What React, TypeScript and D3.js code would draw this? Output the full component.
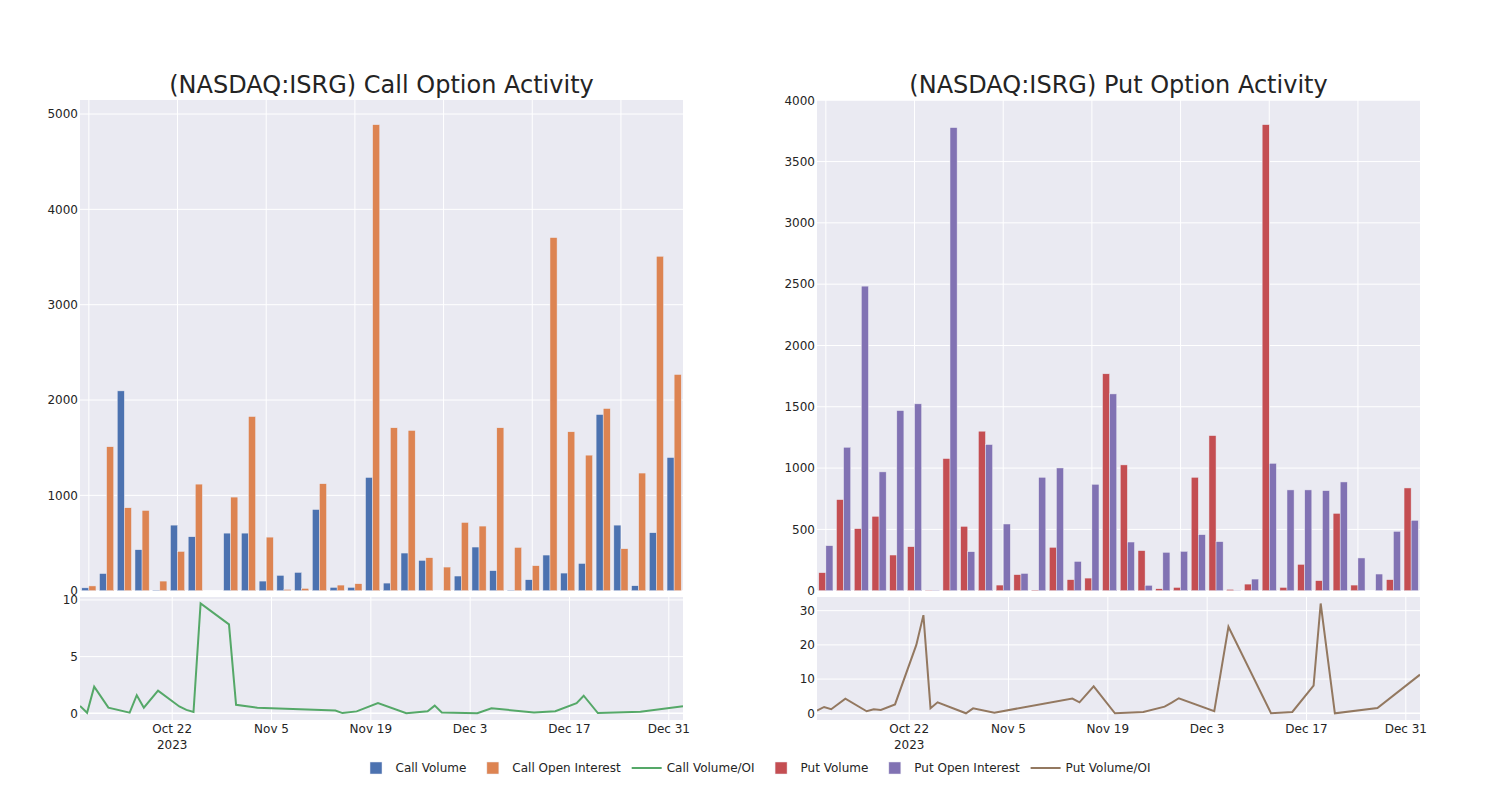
import React, { useEffect, useRef } from "react";
import * as d3 from "d3";

// ---------- DATA ----------
const callVolume = [30, 180, 2096, 430, 5, 688, 566, 0, 604, 604, 101, 161, 192, 852, 35, 35, 1188, 80, 395, 318, 0, 154, 458, 210, 5, 115, 374, 185, 286, 1848, 688, 52, 608, 1397];
const callOpenInterest = [50, 1510, 870, 842, 101, 412, 1118, 0, 982, 1827, 562, 14, 24, 1122, 59, 73, 4888, 1709, 1681, 346, 248, 716, 678, 1709, 454, 262, 3704, 1667, 1422, 1911, 440, 1234, 3508, 2268];
const putVolume = [147, 743, 506, 607, 291, 359, 3, 1078, 525, 1301, 46, 131, 5, 354, 90, 103, 1769, 1026, 327, 16, 27, 925, 1265, 11, 54, 3801, 27, 215, 82, 631, 46, 0, 90, 838];
const putOpenInterest = [367, 1170, 2484, 969, 1469, 1524, 3, 3777, 318, 1192, 544, 141, 925, 1001, 239, 868, 1605, 397, 44, 313, 321, 457, 400, 2, 95, 1039, 822, 822, 816, 887, 267, 136, 484, 574];

const ratioDates = [
  "2023-10-09", "2023-10-10", "2023-10-11", "2023-10-13", "2023-10-16", "2023-10-17", "2023-10-18", "2023-10-20",
  "2023-10-23", "2023-10-24", "2023-10-25", "2023-10-26", "2023-10-30", "2023-10-31", "2023-11-03", "2023-11-14",
  "2023-11-15", "2023-11-17", "2023-11-20", "2023-11-24", "2023-11-27", "2023-11-28", "2023-11-29", "2023-12-04",
  "2023-12-06", "2023-12-12", "2023-12-15", "2023-12-18", "2023-12-19", "2023-12-21", "2023-12-27", "2024-01-02",
];
const callVolumeOI = [0.65, 0.05, 2.35, 0.5, 0.06, 1.6, 0.5, 2.0, 0.6, 0.3, 0.12, 9.7, 7.85, 0.75, 0.5, 0.25, 0.02, 0.17, 0.9, 0.0, 0.18, 0.68, 0.08, 0.0, 0.45, 0.07, 0.18, 0.9, 1.55, 0.02, 0.13, 0.62];
const putVolumeOI = [0.8, 1.85, 1.2, 4.3, 0.6, 1.2, 1.0, 2.6, 20.0, 28.7, 1.5, 3.2, 0.0, 1.45, 0.2, 4.3, 3.2, 7.9, 0.0, 0.4, 1.95, 3.1, 4.4, 0.6, 25.3, 0.0, 0.4, 8.1, 32.1, 0.0, 1.55, 11.3];

const dateTicks = ["2023-10-22", "2023-11-05", "2023-11-19", "2023-12-03", "2023-12-17", "2023-12-31"];
const callBarTicks = [0, 1000, 2000, 3000, 4000, 5000];
const putBarTicks = [0, 500, 1000, 1500, 2000, 2500, 3000, 3500, 4000];
const callRatioTicks = [0, 5, 10];
const putRatioTicks = [0, 10, 20, 30];

const legendItems = [
  { label: "Call Volume", color: "#4C72B0", kind: "bar" },
  { label: "Call Open Interest", color: "#DD8452", kind: "bar" },
  { label: "Call Volume/OI", color: "#55A868", kind: "line" },
  { label: "Put Volume", color: "#C44E52", kind: "bar" },
  { label: "Put Open Interest", color: "#8172B3", kind: "bar" },
  { label: "Put Volume/OI", color: "#937860", kind: "line" },
];

// ---------- STYLE ----------
const FONT = "'DejaVu Sans', Verdana, sans-serif";
const TEXT = "#242424";
const BG = "#EAEAF2";
const parse = d3.timeParse("%Y-%m-%d");
const fmtMonthDay = d3.timeFormat("%b %-d");

type PanelProps = {
  id: string;
  title: string;
  left: number;
  right: number;
  volume: number[];
  oi: number[];
  volColor: string;
  oiColor: string;
  barMax: number;
  barTicks: number[];
  ratio: number[];
  ratioColor: string;
  ratioDomain: [number, number];
  ratioTicks: number[];
};

const TOP_Y0 = 100;
const TOP_Y1 = 590.7;
const BOT_Y0 = 597;
const BOT_Y1 = 720;

function Panel(p: PanelProps) {
  const n = p.volume.length;
  const x = d3.scaleBand<number>().domain(d3.range(n)).range([p.left, p.right]).padding(0);
  const bw = x.bandwidth();
  const y = d3.scaleLinear().domain([0, p.barMax]).range([TOP_Y1, TOP_Y0]);
  const dates = ratioDates.map((d) => parse(d) as Date);
  const xt = d3.scaleTime().domain(d3.extent(dates) as [Date, Date]).range([p.left, p.right]);
  const yr = d3.scaleLinear().domain(p.ratioDomain).range([BOT_Y1, BOT_Y0]);
  const line = d3
    .line<number>()
    .x((_, i) => xt(dates[i]))
    .y((v) => yr(v));
  const catGrid = d3.range(0, n, 5);
  const ticks = dateTicks.map((d) => parse(d) as Date);

  return (
    <g>
      <defs>
        <clipPath id={`clip-${p.id}`}>
          <rect x={p.left} y={BOT_Y0} width={p.right - p.left} height={BOT_Y1 - BOT_Y0} />
        </clipPath>
      </defs>
      <text x={(p.left + p.right) / 2} y={93} textAnchor="middle" fontSize={24} fill={TEXT} fontFamily={FONT}>
        {p.title}
      </text>
      <rect x={p.left} y={TOP_Y0} width={p.right - p.left} height={TOP_Y1 - TOP_Y0} fill={BG} />
      {catGrid.map((c) => (
        <line key={"cg" + c} x1={x(c)! + bw / 2} x2={x(c)! + bw / 2} y1={TOP_Y0} y2={TOP_Y1} stroke="#fff" strokeWidth={1} />
      ))}
      {p.barTicks.map((t) => (
        <g key={"yt" + t}>
          <line x1={p.left} x2={p.right} y1={y(t)} y2={y(t)} stroke="#fff" strokeWidth={1} />
          <text x={p.left - 2} y={y(t)} dy="0.36em" textAnchor="end" fontSize={12} fill={TEXT} fontFamily={FONT}>
            {t}
          </text>
        </g>
      ))}
      {p.volume.map((v, i) => (
        <rect
          key={"v" + i}
          x={x(i)! + bw * 0.1}
          y={y(v)}
          width={bw * 0.4}
          height={TOP_Y1 - y(v)}
          fill={p.volColor}
          stroke={BG}
          strokeWidth={0.5}
        />
      ))}
      {p.oi.map((v, i) => (
        <rect
          key={"o" + i}
          x={x(i)! + bw * 0.5}
          y={y(v)}
          width={bw * 0.4}
          height={TOP_Y1 - y(v)}
          fill={p.oiColor}
          stroke={BG}
          strokeWidth={0.5}
        />
      ))}
      <rect x={p.left} y={BOT_Y0} width={p.right - p.left} height={BOT_Y1 - BOT_Y0} fill={BG} />
      {ticks.map((t, i) => (
        <g key={"xt" + i}>
          <line x1={xt(t)} x2={xt(t)} y1={BOT_Y0} y2={BOT_Y1} stroke="#fff" strokeWidth={1} />
          <text x={xt(t)} y={733} textAnchor="middle" fontSize={12} fill={TEXT} fontFamily={FONT}>
            {fmtMonthDay(t)}
          </text>
          {i === 0 && (
            <text x={xt(t)} y={749} textAnchor="middle" fontSize={12} fill={TEXT} fontFamily={FONT}>
              {d3.timeFormat("%Y")(t)}
            </text>
          )}
        </g>
      ))}
      {p.ratioTicks.map((t) => (
        <g key={"rt" + t}>
          <line x1={p.left} x2={p.right} y1={yr(t)} y2={yr(t)} stroke="#fff" strokeWidth={t === 0 ? 1.5 : 1} />
          <text x={p.left - 2} y={yr(t)} dy="0.36em" textAnchor="end" fontSize={12} fill={TEXT} fontFamily={FONT}>
            {t}
          </text>
        </g>
      ))}
      <path d={line(p.ratio) || ""} fill="none" stroke={p.ratioColor} strokeWidth={2} clipPath={`url(#clip-${p.id})`} />
    </g>
  );
}

function Legend() {
  const ref = useRef<SVGGElement>(null);
  useEffect(() => {
    const g = d3.select(ref.current);
    g.selectAll("*").remove();
    let s = 355.5;
    const cy = 768;
    legendItems.forEach((it) => {
      const item = g.append("g");
      if (it.kind === "bar") {
        item.append("rect").attr("x", s + 14.5).attr("y", cy - 6).attr("width", 12).attr("height", 12).attr("fill", it.color).attr("stroke", BG).attr("stroke-width", 0.5);
      } else {
        item.append("line").attr("x1", s + 5).attr("x2", s + 35).attr("y1", cy).attr("y2", cy).attr("stroke", it.color).attr("stroke-width", 2);
      }
      const t = item
        .append("text")
        .attr("x", s + 40)
        .attr("y", cy)
        .attr("dy", "0.36em")
        .attr("font-size", 12)
        .attr("font-family", FONT)
        .attr("fill", TEXT)
        .text(it.label);
      const w = (t.node() as SVGTextElement).getComputedTextLength();
      s = s + 40 + w + 6;
    });
  }, []);
  return <g ref={ref} />;
}

export default function App() {
  return (
    <svg width={1500} height={800} style={{ position: "absolute", left: 0, top: 0, background: "#fff" }}>
      <Panel
        id="call"
        title="(NASDAQ:ISRG) Call Option Activity"
        left={80}
        right={683}
        volume={callVolume}
        oi={callOpenInterest}
        volColor="#4C72B0"
        oiColor="#DD8452"
        barMax={5147}
        barTicks={callBarTicks}
        ratio={callVolumeOI}
        ratioColor="#55A868"
        ratioDomain={[-0.59, 10.26]}
        ratioTicks={callRatioTicks}
      />
      <Panel
        id="put"
        title="(NASDAQ:ISRG) Put Option Activity"
        left={817}
        right={1420}
        volume={putVolume}
        oi={putOpenInterest}
        volColor="#C44E52"
        oiColor="#8172B3"
        barMax={4002}
        barTicks={putBarTicks}
        ratio={putVolumeOI}
        ratioColor="#937860"
        ratioDomain={[-1.96, 34.0]}
        ratioTicks={putRatioTicks}
      />
      <Legend />
    </svg>
  );
}
